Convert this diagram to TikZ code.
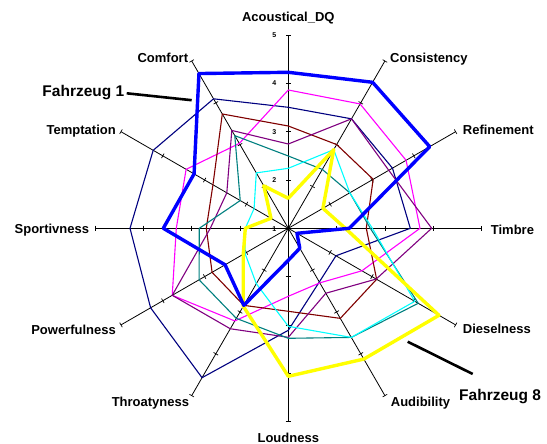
\documentclass[tikz,border=0pt]{standalone}
\usepackage{fontspec}
\setmainfont{Liberation Sans}
\definecolor{sNavy}{RGB}{0,0,128}
\definecolor{sMag}{RGB}{255,0,255}
\definecolor{sMaroon}{RGB}{128,0,0}
\definecolor{sPurple}{RGB}{128,0,128}
\definecolor{sTeal}{RGB}{0,128,128}
\definecolor{sCyan}{RGB}{0,255,255}
\definecolor{sYellow}{RGB}{255,255,0}
\definecolor{sBlue}{RGB}{0,0,255}
\begin{document}
\begin{tikzpicture}[x=1pt,y=-1pt,
  axisline/.style={black, line width=0.8pt},
  tickmark/.style={black, line width=0.7pt},
  lbl/.style={font=\fontsize{13}{15}\selectfont\bfseries, inner sep=0pt},
  numlbl/.style={font=\fontsize{7}{8}\selectfont\bfseries, inner sep=0pt, anchor=east},
  flbl/.style={font=\fontsize{15.5}{18}\selectfont\bfseries, inner sep=0pt},
  pointer/.style={black, line width=2.6pt},
  serie/.style={line width=1.1pt, line join=round},
  bigserie/.style={line width=3.4pt, line join=round}]
\useasboundingbox (0,0) rectangle (547,444);
\fill[white] (0,0) rectangle (547,444);
\coordinate (C) at (288.3,228.3);
% axes
\foreach \k in {0,...,11}{
  \pgfmathsetmacro\a{30*\k-90}
  \path (C) ++(\a:193.2) coordinate (E\k);
  \draw[axisline] (C) -- (E\k);
  \foreach \j in {1,2,3,4}{
    \pgfmathsetmacro\rr{48.3*\j}
    \draw[tickmark] (C) ++(\a:\rr) ++(\a+90:2.6) -- ++(\a-90:5.2);
  }
}
% scale numbers
\node[numlbl] (n5) at (276.5,35) {5};
\node[numlbl] (n4) at (276.5,83.3) {4};
\node[numlbl] (n3) at (276.5,131.6) {3};
\node[numlbl] (n2) at (276.5,179.9) {2};
\node[numlbl] (n1) at (276.5,228.6) {1};
% series
\begin{scope}[shift={(C)}]
\draw[serie, sNavy] (-90:121) -- (-60:126.4) -- (-30:120.3) -- (0:122) -- (30:55) -- (60:62) -- (90:102) -- (120:172.5) -- (150:159) -- (180:158.3) -- (210:156) -- (240:149.5) -- cycle;
\draw[serie, sMag] (-90:138.3) -- (-60:143.6) -- (-30:136) -- (0:131.7) -- (30:85) -- (60:63) -- (90:68) -- (120:107) -- (150:134) -- (180:112) -- (210:118) -- (240:98) -- cycle;
\draw[serie, sMaroon] (-90:102.3) -- (-60:96.7) -- (-30:98) -- (0:78) -- (30:102) -- (60:104) -- (90:83) -- (120:89) -- (150:88) -- (180:82) -- (210:87) -- (240:132) -- cycle;
\draw[serie, sPurple] (-90:84.3) -- (-60:126.4) -- (-30:116) -- (0:143.4) -- (30:101.5) -- (60:75) -- (90:109) -- (120:116) -- (150:134) -- (180:78) -- (210:71) -- (240:113) -- cycle;
\draw[serie, sTeal] (-90:72.3) -- (-60:68) -- (-30:71) -- (0:82) -- (30:150) -- (60:126) -- (90:110) -- (120:104) -- (150:103) -- (180:89) -- (210:55.5) -- (240:107) -- cycle;
\draw[serie, sCyan] (-90:60) -- (-60:90.8) -- (-30:71) -- (0:84) -- (30:146) -- (60:126) -- (90:98) -- (120:64) -- (150:50) -- (180:43) -- (210:39.5) -- (240:64) -- cycle;
\draw[bigserie, sYellow] (-90:30) -- (-60:90.8) -- (-30:40) -- (0:57) -- (30:174) -- (60:151) -- (90:148) -- (120:90) -- (150:52) -- (180:43) -- (210:20) -- (240:49) -- cycle;
\draw[bigserie, sBlue] (-90:156) -- (-60:168.6) -- (-30:163.3) -- (0:61) -- (30:10) -- (60:23) -- (90:32) -- (120:89) -- (150:73) -- (180:125) -- (210:108.8) -- (240:178.7) -- cycle;
\end{scope}
% axis labels
\node[lbl, anchor=base] (lAc) at (288.3,22) {Acoustical\_DQ};
\node[lbl, anchor=base west] (lCo) at (390,62.3) {Consistency};
\node[lbl, anchor=base west] (lRe) at (462.7,135) {Refinement};
\node[lbl, anchor=base west] (lTi) at (490.7,234) {Timbre};
\node[lbl, anchor=base west] (lDi) at (462.7,333.5) {Dieselness};
\node[lbl, anchor=base west] (lAu) at (390.7,406.5) {Audibility};
\node[lbl, anchor=base] (lLo) at (288.3,442.5) {Loudness};
\node[lbl, anchor=base east] (lTh) at (189.3,406.5) {Throatyness};
\node[lbl, anchor=base east] (lPo) at (116,334) {Powerfulness};
\node[lbl, anchor=base east] (lSp) at (89.3,233.5) {Sportivness};
\node[lbl, anchor=base east] (lTe) at (116,134.5) {Temptation};
\node[lbl, anchor=base east] (lCf) at (188.3,62.3) {Comfort};
% vehicle labels
\node[flbl, anchor=base east] (f1) at (124.5,97) {Fahrzeug 1};
\coordinate (f1a) at (126.7,93.3);
\coordinate (f1b) at (191.7,100.2);
\draw[pointer] (f1a) -- (f1b);
\node[flbl, anchor=base west] (f8) at (459,400.5) {Fahrzeug 8};
\coordinate (f8a) at (407.7,341.7);
\coordinate (f8b) at (472.7,374);
\draw[pointer] (f8a) -- (f8b);
\end{tikzpicture}
\end{document}
